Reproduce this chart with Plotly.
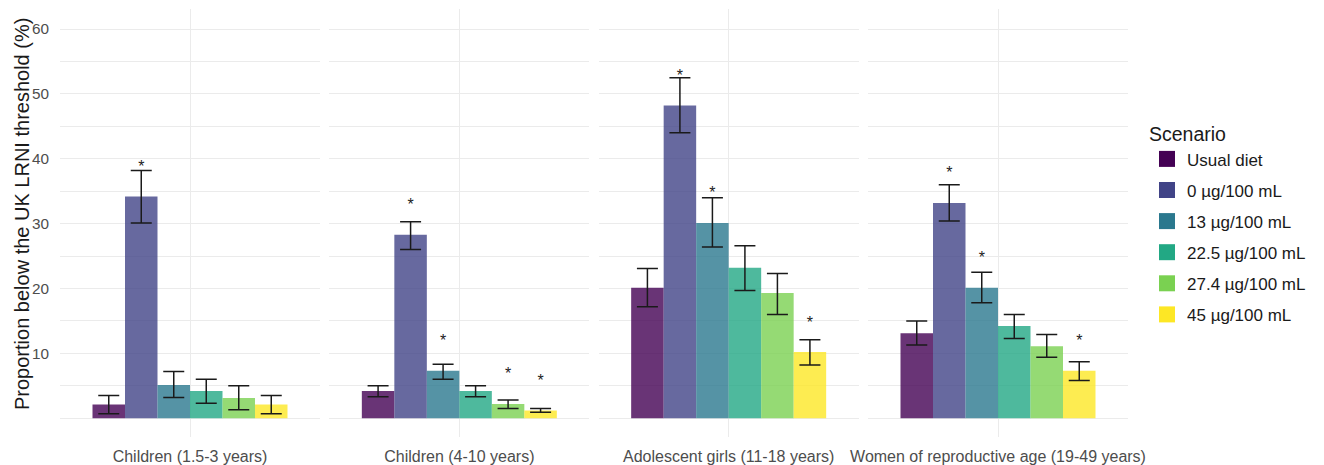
import plotly.graph_objects as go

groups = ["Children (1.5-3 years)", "Children (4-10 years)",
          "Adolescent girls (11-18 years)", "Women of reproductive age (19-49 years)"]
scenarios = ["Usual diet", "0 µg/100 mL", "13 µg/100 mL",
             "22.5 µg/100 mL", "27.4 µg/100 mL", "45 µg/100 mL"]
colors = ["#440154", "#414487", "#2A788E", "#22A884", "#7AD151", "#FDE725"]

# proportion (%) per scenario, one value per population group
usual_diet = [2.1, 4.2, 20.1, 13.1]
fort_0 = [34.2, 28.3, 48.2, 33.2]
fort_13 = [5.1, 7.3, 30.1, 20.1]
fort_22_5 = [4.2, 4.2, 23.2, 14.2]
fort_27_4 = [3.1, 2.2, 19.3, 11.1]
fort_45 = [2.1, 1.2, 10.2, 7.3]

# lower / upper confidence limits
usual_diet_lo = [0.7, 3.3, 17.2, 11.3]
fort_0_lo = [30.1, 26.0, 44.0, 30.4]
fort_13_lo = [3.2, 6.0, 26.4, 17.8]
fort_22_5_lo = [2.3, 3.3, 19.7, 12.3]
fort_27_4_lo = [1.3, 1.5, 16.0, 9.4]
fort_45_lo = [0.7, 0.9, 8.2, 5.8]

usual_diet_hi = [3.5, 5.0, 23.1, 15.0]
fort_0_hi = [38.2, 30.3, 52.5, 36.0]
fort_13_hi = [7.2, 8.3, 34.0, 22.5]
fort_22_5_hi = [6.0, 5.0, 26.6, 16.0]
fort_27_4_hi = [5.0, 2.8, 22.3, 12.9]
fort_45_hi = [3.5, 1.5, 12.1, 8.7]

# significance flags (asterisk)
usual_diet_sig = [0, 0, 0, 0]
fort_0_sig = [1, 1, 1, 1]
fort_13_sig = [0, 1, 1, 1]
fort_22_5_sig = [0, 0, 0, 0]
fort_27_4_sig = [0, 1, 0, 0]
fort_45_sig = [0, 1, 1, 1]

values = [usual_diet, fort_0, fort_13, fort_22_5, fort_27_4, fort_45]
lows = [usual_diet_lo, fort_0_lo, fort_13_lo, fort_22_5_lo, fort_27_4_lo, fort_45_lo]
highs = [usual_diet_hi, fort_0_hi, fort_13_hi, fort_22_5_hi, fort_27_4_hi, fort_45_hi]
sigs = [usual_diet_sig, fort_0_sig, fort_13_sig, fort_22_5_sig, fort_27_4_sig, fort_45_sig]

ast_offset = 4.4
font_family = "Liberation Sans, Arial, sans-serif"

fig = go.Figure()

for p, g in enumerate(groups):
    xa = "x" if p == 0 else f"x{p + 1}"
    for s, name in enumerate(scenarios):
        v = values[s][p]
        fig.add_trace(go.Bar(
            x=[g], y=[v], xaxis=xa, yaxis="y",
            name=name, legendgroup=name, showlegend=False,
            offsetgroup=str(s),
            marker=dict(color=colors[s], opacity=0.8, line=dict(width=0)),
            error_y=dict(type="data", symmetric=False,
                         array=[highs[s][p] - v], arrayminus=[v - lows[s][p]],
                         color="#1a1a1a", thickness=1.5, width=10.5),
            hovertemplate=f"{g}<br>{name}: %{{y}}%<extra></extra>",
        ))
    for s, name in enumerate(scenarios):
        v = values[s][p]
        fig.add_trace(go.Scatter(
            x=[g], y=[v + ast_offset if sigs[s][p] else None],
            xaxis=xa, yaxis="y", mode="text", text=["*"],
            textposition="middle center",
            textfont=dict(size=16, color="#222222", family=font_family),
            offsetgroup=str(s), showlegend=False, hoverinfo="skip",
        ))

# legend entries (full-colour keys)
for s, name in enumerate(scenarios):
    fig.add_trace(go.Scatter(
        x=[None], y=[None], mode="markers", name=name, legendgroup=name,
        marker=dict(symbol="square", size=22, color=colors[s]),
        xaxis="x", yaxis="y",
    ))

W, H = 1324, 465
left, right, top, bottom = 60, 1128, 9, 437
pw = 260
gap = (right - left - 4 * pw) / 3
layout_axes = {}
for p in range(4):
    x0 = left + p * (pw + gap)
    key = "xaxis" if p == 0 else f"xaxis{p + 1}"
    layout_axes[key] = dict(
        domain=[(x0 - left) / (right - left), (x0 + pw - left) / (right - left)],
        anchor="y", type="category", range=[-0.6, 0.6],
        showgrid=True, gridcolor="#ebebeb", gridwidth=1,
        zeroline=False, showline=False, automargin=False,
        ticks="outside", ticklen=5, tickcolor="rgba(0,0,0,0)",
        tickfont=dict(size=16, color="#4d4d4d", family=font_family),
        fixedrange=True,
    )

fig.update_layout(
    **layout_axes,
    yaxis=dict(
        anchor="x", range=[-2.9, 63.1], automargin=False,
        tickvals=[10, 20, 30, 40, 50, 60],
        showgrid=True, gridcolor="#ebebeb", gridwidth=1,
        minor=dict(tick0=0, dtick=5, showgrid=True, gridcolor="#ebebeb", gridwidth=1),
        zeroline=False, showline=False,
        ticks="outside", ticklen=7, tickcolor="rgba(0,0,0,0)",
        tickfont=dict(size=15.3, color="#4d4d4d", family=font_family),
    ),
    annotations=[dict(
        text="Proportion below the UK LRNI threshold (%)",
        xref="paper", yref="paper", x=0, xshift=-(left - 22), xanchor="center",
        y=(H - 214 - (H - bottom)) / (bottom - top), yanchor="middle",
        textangle=-90, showarrow=False,
        font=dict(size=20, color="#1a1a1a", family=font_family),
    )],
    barmode="group", bargap=0.1, bargroupgap=0,
    scattermode="group", scattergap=0.1,
    plot_bgcolor="white", paper_bgcolor="white",
    width=W, height=H,
    margin=dict(l=left, r=W - right, t=top, b=H - bottom),
    legend=dict(
        title=dict(text="Scenario", font=dict(size=19.5, color="#1a1a1a", family=font_family)),
        font=dict(size=17, color="#1a1a1a", family=font_family),
        xref="container", yref="container",
        x=1147 / W, y=1 - 116 / H, xanchor="left", yanchor="top",
        tracegroupgap=6, itemsizing="trace",
        bgcolor="rgba(0,0,0,0)",
    ),
    font=dict(family=font_family),
)

fig.write_html("out.html",
               config={"displayModeBar": False},
               post_script="document.body.style.margin='0';document.body.style.overflow='hidden';")
